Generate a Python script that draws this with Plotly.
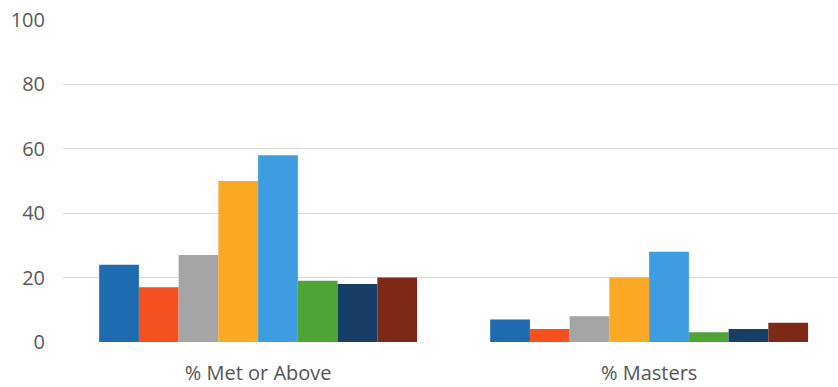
import plotly.graph_objects as go

categories = ["% Met or Above", "% Masters"]

series_names = ["S1", "S2", "S3", "S4", "S5", "S6", "S7", "S8"]
met_or_above = [24, 17, 27, 50, 58, 19, 18, 20]
masters = [7, 4, 8, 20, 28, 3, 4, 6]
colors = ["#1f6bb0", "#f4511e", "#a5a5a5", "#fba824", "#3e9de0",
          "#4ea535", "#173f66", "#7c2a16"]

y_ticks = [0, 20, 40, 60, 80, 100]

fig = go.Figure()
for i, name in enumerate(series_names):
    fig.add_trace(go.Bar(
        x=categories,
        y=[met_or_above[i], masters[i]],
        name=name,
        marker=dict(color=colors[i], line=dict(width=0)),
    ))

fig.update_layout(
    width=838, height=387,
    margin=dict(l=63, r=0, t=20, b=45),
    paper_bgcolor="white", plot_bgcolor="white",
    barmode="group", bargap=0.187, bargroupgap=0,
    showlegend=False,
    font=dict(family="Open Sans", color="#5a5a5a", size=20),
    xaxis=dict(
        type="category", range=[-0.499, 1.483],
        showgrid=False, zeroline=False, showline=False,
        ticks="", ticklabelstandoff=17,
        tickfont=dict(size=20, color="#555555"),
    ),
    yaxis=dict(
        range=[0, 100], tickvals=y_ticks,
        showgrid=True, gridcolor="#d9d9d9", gridwidth=1,
        zeroline=False, showline=False,
        ticks="", ticklabelstandoff=17,
        tickfont=dict(size=20, color="#5a5a5a"),
    ),
)

fig.write_html("out.html")
